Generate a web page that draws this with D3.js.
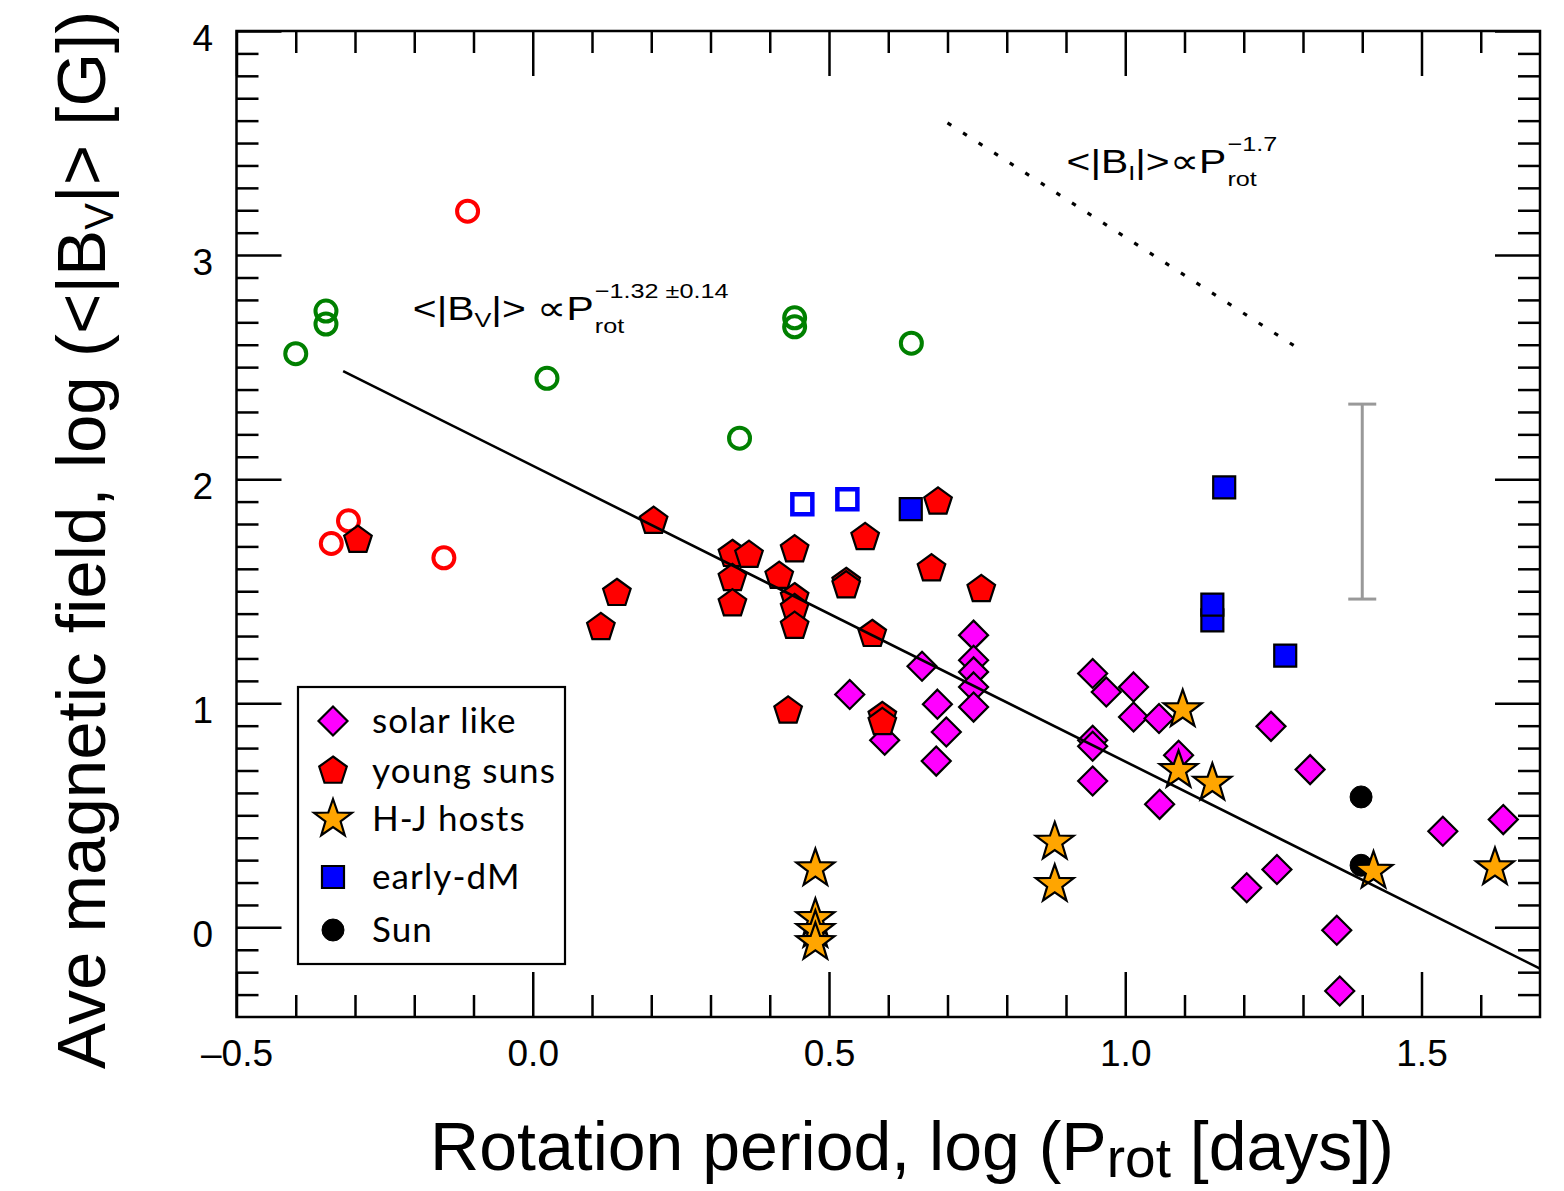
<!DOCTYPE html>
<html>
<head>
<meta charset="utf-8">
<script src="https://cdn.jsdelivr.net/npm/d3@7"></script>
<style>
  body { margin: 0; background: #fff; }
  svg { display: block; }
</style>
</head>
<body>
<svg id="chart" width="1564" height="1191"></svg>
<script>
// Samples: [log Prot (days), log <|B_V|> (G)]
const solarLike = [
  [0.535, 1.039], [0.594, 0.835], [0.657, 1.165], [0.683, 0.996], [0.698, 0.872], [0.681, 0.742],
  [0.744, 1.304], [0.744, 1.192], [0.744, 1.140], [0.744, 1.073], [0.744, 0.983],
  [0.945, 1.133], [0.968, 1.050], [1.014, 1.073], [1.014, 0.939], [1.057, 0.932],
  [0.945, 0.835], [0.945, 0.808], [0.945, 0.653], [1.090, 0.768], [1.058, 0.549],
  [1.246, 0.897], [1.312, 0.704], [1.205, 0.177], [1.256, 0.258], [1.357, -0.013],
  [1.362, -0.284], [1.536, 0.429], [1.638, 0.481]
];
const youngSuns = [
  [-0.295, 1.728], [0.204, 1.813], [0.115, 1.339], [0.142, 1.491],
  [0.337, 1.665], [0.365, 1.661], [0.337, 1.557], [0.337, 1.445],
  [0.416, 1.567], [0.442, 1.686], [0.442, 1.472], [0.442, 1.423], [0.442, 1.344],
  [0.529, 1.540], [0.529, 1.525], [0.561, 1.740], [0.573, 1.308], [0.673, 1.601],
  [0.684, 1.899], [0.757, 1.508], [0.431, 0.966], [0.590, 0.942], [0.590, 0.915]
];
const hjHosts = [
  [0.477, 0.262], [0.477, 0.040], [0.477, -0.013], [0.477, -0.067],
  [0.881, 0.381], [0.881, 0.192], [1.097, 0.972], [1.090, 0.701], [1.147, 0.644],
  [1.419, 0.251], [1.624, 0.267]
];
const earlyDM = [[0.638, 1.866], [1.167, 1.963], [1.147, 1.370], [1.147, 1.440], [1.270, 1.213]];
const earlyDMOpen = [[0.455, 1.888], [0.531, 1.911]];
const sunPoints = [[1.398, 0.582], [1.398, 0.277]];
const openGreen = [
  [-0.400, 2.560], [-0.349, 2.750], [-0.349, 2.692], [0.024, 2.450],
  [0.442, 2.720], [0.442, 2.680], [0.639, 2.607], [0.349, 2.183]
];
const openRed = [[-0.110, 3.196], [-0.311, 1.814], [-0.340, 1.713], [-0.150, 1.649]];

// Power-law fits in log space
const fitSlope = -1.32, fitIntercept = 2.06, fitRange = [-0.32, 1.7];
const refSlope = -1.7, refIntercept = 4.78, refRange = [0.70, 1.30];
// Typical uncertainty bar
const errorBar = { x: 1.40, lo: 1.465, hi: 2.335 };

const xMajor = [-0.5, 0.0, 0.5, 1.0, 1.5];
const xMajorLabels = ["\u20130.5", "0.0", "0.5", "1.0", "1.5"];
const yMajor = [0, 1, 2, 3, 4];
const yMajorLabels = ["0", "1", "2", "3", "4"];

const legendLabels = ["solar like", "young suns", "H-J hosts", "early-dM", "Sun"];

// ---------------------------------------------------------------
const svg = d3.select("#chart");
const L = 236.5, R = 1540, T = 31, B = 1017;
const x = d3.scaleLinear().domain([-0.5, 1.7]).range([L, R]);
const y = d3.scaleLinear().domain([-0.4, 4]).range([B, T]);
const axisFont = "'Liberation Sans', Arial, Helvetica, sans-serif";
const legendFont = "Lato, 'Noto Sans', sans-serif";

// symbol shapes
function polyType(pts) {
  return { draw(ctx, size) {
    const r = Math.sqrt(size);
    pts.forEach(([a, k], i) => {
      const px = r * k * Math.cos(a), py = r * k * Math.sin(a);
      i ? ctx.lineTo(px, py) : ctx.moveTo(px, py);
    });
    ctx.closePath();
  }};
}
const pentagonType = polyType(d3.range(5).map(i => [-Math.PI / 2 + i * 2 * Math.PI / 5, 1]));
const starType = polyType(d3.range(10).map(i => [-Math.PI / 2 + i * Math.PI / 5, i % 2 ? 0.4 : 1]));
const diamondType = polyType(d3.range(4).map(i => [-Math.PI / 2 + i * Math.PI / 2, 1]));
const squareType = { draw(ctx, size) { const r = Math.sqrt(size); ctx.rect(-r, -r, 2 * r, 2 * r); } };
const circleType = { draw(ctx, size) { const r = Math.sqrt(size); ctx.moveTo(r, 0); ctx.arc(0, 0, r, 0, 2 * Math.PI); } };

const styles = {
  openGreen:   { type: circleType, r: 10.5, fill: "#fff", fillOpacity: 0, stroke: "#008000", sw: 4 },
  openRed:     { type: circleType, r: 10.5, fill: "#fff", fillOpacity: 0, stroke: "#ff0000", sw: 4 },
  solar:       { type: diamondType, r: 14.5, fill: "#ff00ff", stroke: "#000", sw: 2.2 },
  young:       { type: pentagonType, r: 14.5, fill: "#ff0000", stroke: "#000", sw: 2.2 },
  dmOpen:      { type: squareType, r: 10, fill: "#fff", fillOpacity: 0, stroke: "#0000ff", sw: 4.5 },
  dm:          { type: squareType, r: 11, fill: "#0000ff", stroke: "#000", sw: 2.2 },
  hj:          { type: starType, r: 20, fill: "#ffa500", stroke: "#000", sw: 2.2 },
  sun:         { type: circleType, r: 11, fill: "#000", stroke: "#000", sw: 1 }
};

function drawSeries(data, st) {
  svg.append("g").selectAll("path").data(data).join("path")
    .attr("transform", d => `translate(${x(d[0])},${y(d[1])})`)
    .attr("d", d3.symbol().type(st.type).size(st.r * st.r))
    .attr("fill", st.fill)
    .attr("fill-opacity", st.fillOpacity === undefined ? 1 : st.fillOpacity)
    .attr("stroke", st.stroke)
    .attr("stroke-width", st.sw)
    .attr("stroke-linejoin", "miter");
}

drawSeries(openGreen, styles.openGreen);
drawSeries(openRed, styles.openRed);
drawSeries(solarLike, styles.solar);
drawSeries(youngSuns, styles.young);
drawSeries(earlyDMOpen, styles.dmOpen);
drawSeries(earlyDM, styles.dm);
drawSeries(sunPoints, styles.sun);
drawSeries(hjHosts, styles.hj);

// fit line
svg.append("line")
  .attr("x1", x(fitRange[0])).attr("y1", y(fitIntercept + fitSlope * fitRange[0]))
  .attr("x2", x(fitRange[1])).attr("y2", y(fitIntercept + fitSlope * fitRange[1]))
  .attr("stroke", "#000").attr("stroke-width", 2.6);

// reference slope (dotted)
svg.append("line")
  .attr("x1", x(refRange[0])).attr("y1", y(refIntercept + refSlope * refRange[0]))
  .attr("x2", x(refRange[1])).attr("y2", y(refIntercept + refSlope * refRange[1]))
  .attr("stroke", "#000").attr("stroke-width", 3.2)
  .attr("stroke-dasharray", "4.5,14");

// error bar
const eb = svg.append("g").attr("stroke", "#999").attr("stroke-width", 3);
eb.append("line").attr("x1", x(errorBar.x)).attr("x2", x(errorBar.x))
  .attr("y1", y(errorBar.lo)).attr("y2", y(errorBar.hi));
[errorBar.lo, errorBar.hi].forEach(v => {
  eb.append("line").attr("x1", x(errorBar.x) - 14).attr("x2", x(errorBar.x) + 14)
    .attr("y1", y(v)).attr("y2", y(v));
});

// axes: ticks on all four sides, pointing inward
const xMinor = d3.range(-4, 17).map(i => i / 10).filter(v => Math.abs(v * 2 - Math.round(v * 2)) > 1e-6);
const yMinor = d3.range(-3, 40).map(i => i / 10).filter(v => Math.abs(v - Math.round(v)) > 1e-6);

function styleAxis(g) {
  g.select(".domain").remove();
  g.selectAll("line").attr("stroke", "#000").attr("stroke-width", 2.5);
  g.selectAll("text").attr("font-family", axisFont).attr("font-size", 37).attr("fill", "#000");
}
const noLabel = () => "";

svg.append("g").attr("transform", `translate(0,${B})`)
  .call(d3.axisBottom(x).tickValues(xMajor).tickSize(-45).tickPadding(23)
    .tickFormat((d, i) => xMajorLabels[i])).call(styleAxis);
svg.append("g").attr("transform", `translate(0,${B})`)
  .call(d3.axisBottom(x).tickValues(xMinor).tickSize(-22).tickFormat(noLabel)).call(styleAxis);
svg.append("g").attr("transform", `translate(0,${T})`)
  .call(d3.axisTop(x).tickValues(xMajor).tickSize(-45).tickFormat(noLabel)).call(styleAxis);
svg.append("g").attr("transform", `translate(0,${T})`)
  .call(d3.axisTop(x).tickValues(xMinor).tickSize(-22).tickFormat(noLabel)).call(styleAxis);

const yLeft = svg.append("g").attr("transform", `translate(${L},0)`)
  .call(d3.axisLeft(y).tickValues(yMajor).tickSize(-45).tickPadding(23.5)
    .tickFormat((d, i) => yMajorLabels[i])).call(styleAxis);
yLeft.selectAll("text").attr("dy", "0.53em");
svg.append("g").attr("transform", `translate(${L},0)`)
  .call(d3.axisLeft(y).tickValues(yMinor).tickSize(-22).tickFormat(noLabel)).call(styleAxis);
svg.append("g").attr("transform", `translate(${R},0)`)
  .call(d3.axisRight(y).tickValues(yMajor).tickSize(-45).tickFormat(noLabel)).call(styleAxis);
svg.append("g").attr("transform", `translate(${R},0)`)
  .call(d3.axisRight(y).tickValues(yMinor).tickSize(-22).tickFormat(noLabel)).call(styleAxis);

// frame
svg.append("rect").attr("x", L).attr("y", T).attr("width", R - L).attr("height", B - T)
  .attr("fill", "none").attr("stroke", "#000").attr("stroke-width", 2.5);

// axis titles
const xt = svg.append("text").attr("x", 912).attr("y", 1170)
  .attr("text-anchor", "middle").attr("font-family", axisFont).attr("font-size", 68).attr("fill", "#000");
xt.append("tspan").text("Rotation period, log (P");
xt.append("tspan").attr("font-size", 55).attr("dy", 7).text("rot");
xt.append("tspan").attr("dy", -7).text(" [days])");

const yt = svg.append("text").attr("transform", "translate(105,540) rotate(-90)")
  .attr("text-anchor", "middle").attr("font-family", axisFont).attr("font-size", 69).attr("fill", "#000");
yt.append("tspan").text("Ave magnetic field, log (<|B");
yt.append("tspan").attr("font-size", 40).attr("dy", 8).text("V");
yt.append("tspan").attr("dy", -8).text("|> [G])");

// annotations: main text, then stacked subscript / superscript after "P"
function powerLaw(x0, y0, sym, gap, sup, size) {
  const g = svg.append("g")
    .attr("transform", `translate(${x(x0)},${y(y0)}) scale(1.2,1)`)
    .attr("font-family", axisFont).attr("fill", "#000");
  const t = g.append("text").attr("font-size", size);
  t.append("tspan").text("<|B");
  t.append("tspan").attr("font-size", size * 0.62).attr("dy", 7).text(sym);
  t.append("tspan").attr("dy", -7).text("|>" + gap + "\u221DP");
  const w = t.node().getComputedTextLength();
  g.append("text").attr("x", w + 1).attr("y", 13).attr("font-size", 21).text("rot");
  g.append("text").attr("x", w + 1).attr("y", -22).attr("font-size", 21).text(sup);
}
powerLaw(-0.2024, 2.71, "V", " ", "\u22121.32 \u00B10.14", 34);
powerLaw(0.901, 3.365, "I", "", "\u22121.7", 34);

// legend
const lg = svg.append("g");
lg.append("rect").attr("x", 298).attr("y", 687).attr("width", 267).attr("height", 277)
  .attr("fill", "#fff").attr("stroke", "#000").attr("stroke-width", 2.2);
const legendStyles = [styles.solar, styles.young, styles.hj, styles.dm, styles.sun];
const legendRowY = [721, 771, 819, 877, 930];
legendLabels.forEach((lab, i) => {
  const st = legendStyles[i];
  lg.append("path")
    .attr("transform", `translate(333,${legendRowY[i]})`)
    .attr("d", d3.symbol().type(st.type).size(st.r * st.r))
    .attr("fill", st.fill).attr("stroke", st.stroke).attr("stroke-width", st.sw);
  lg.append("text").attr("x", 372).attr("y", legendRowY[i] + 12)
    .attr("font-family", legendFont).attr("font-size", 35).attr("letter-spacing", 1.1)
    .attr("fill", "#000").text(lab);
});
</script>
</body>
</html>
